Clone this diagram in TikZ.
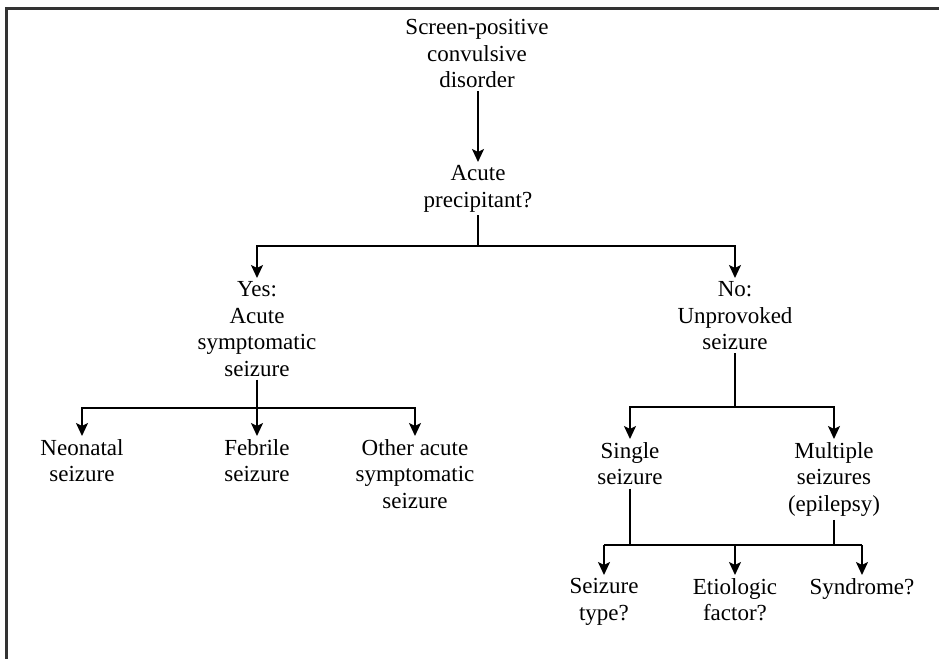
\documentclass[tikz,border=0pt]{standalone}
\usepackage{fontspec}
\setmainfont{Liberation Serif}
\usepackage{tikz}
\usetikzlibrary{arrows.meta, positioning}

\begin{document}
\begin{tikzpicture}[x=0.5pt, y=-0.5pt,
    box/.style={align=center, inner sep=1.5pt, anchor=north, font=\fontsize{11.5}{13.3}\selectfont},
    arrow/.style={line width=1pt, -{Stealth[length=6.5pt, width=6pt, inset=1.5pt]}},
    link/.style={line width=1pt}]
    \useasboundingbox (0,0) rectangle (939,659);

    % Frame
    \draw[line width=1.5pt, black!80] (939,8) -- (6,8) -- (6,659);

    % Top question
    \node[box] (screen) at (477,16) {Screen-positive\\convulsive\\disorder};
    \node[box] (acute) at (478,162) {Acute\\precipitant?};

    % First split
    \node[box] (yes) at (257,278) {Yes:\\Acute\\symptomatic\\seizure};
    \node[box] (no) at (735,278) {No:\\Unprovoked\\seizure};

    % Acute symptomatic branches
    \node[box] (neo) at (82,436) {Neonatal\\seizure};
    \node[box] (feb) at (257,436) {Febrile\\seizure};
    \node[box] (other) at (415,436) {Other acute\\symptomatic\\seizure};

    % Unprovoked branches
    \node[box] (single) at (630,439) {Single\\seizure};
    \node[box] (multi) at (834,439) {Multiple\\seizures\\(epilepsy)};

    % Questions for unprovoked seizures
    \node[box] (stype) at (604,575) {Seizure\\type?};
    \node[box] (etio) at (735,575) {Etiologic\\factor?};
    \node[box] (synd) at (862,575) {Syndrome?};

    % Bus levels
    \coordinate (busA) at (0,246);
    \coordinate (busB) at (0,408);
    \coordinate (busC) at (0,407);
    \coordinate (busD) at (0,545);

    % Connectors
    \draw[arrow] (acute.north |- screen.south) -- (acute.north);

    \draw[arrow] (acute.south) -- (acute.south |- busA) -| (yes.north);
    \draw[arrow] (acute.south) -- (acute.south |- busA) -| (no.north);

    \draw[arrow] (yes.south) -- (yes.south |- busB) -| (neo.north);
    \draw[arrow] (yes.south) -- (feb.north);
    \draw[arrow] (yes.south) -- (yes.south |- busB) -| (other.north);

    \draw[arrow] (no.south) -- (no.south |- busC) -| (single.north);
    \draw[arrow] (no.south) -- (no.south |- busC) -| (multi.north);

    \draw[link] (single.south) -- (single.south |- busD);
    \draw[link] (multi.south) -- (multi.south |- busD);
    \draw[link] (stype.north |- busD) -- (synd.north |- busD);
    \draw[arrow] (stype.north |- busD) -- (stype.north);
    \draw[arrow] (etio.north |- busD) -- (etio.north);
    \draw[arrow] (synd.north |- busD) -- (synd.north);
\end{tikzpicture}
\end{document}
